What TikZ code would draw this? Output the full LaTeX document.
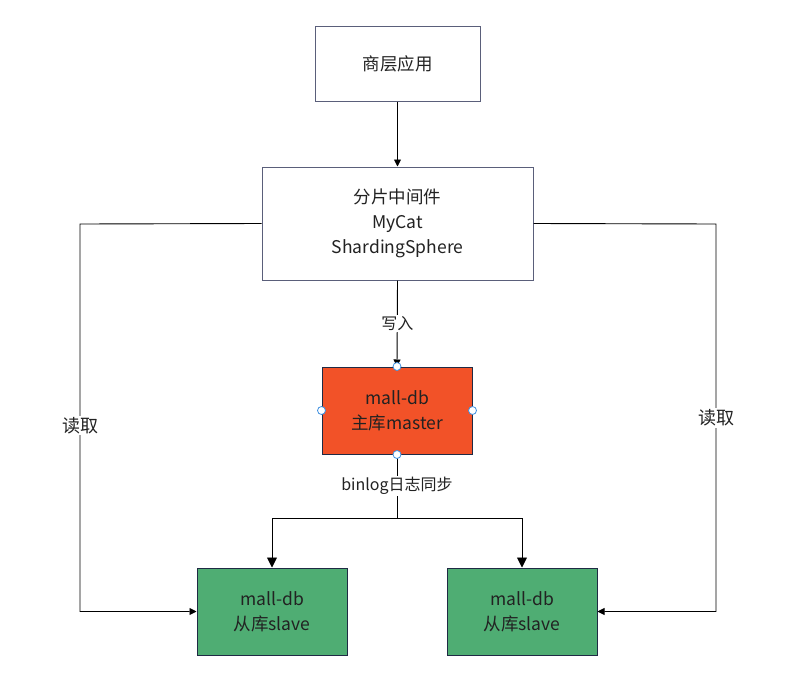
\documentclass[tikz,border=0pt]{standalone}
\usepackage{fontspec}
\setmainfont{Noto Sans CJK SC}
\usetikzlibrary{arrows.meta}
\definecolor{bordergrey}{HTML}{5A5F7A}
\definecolor{navy}{HTML}{1F2A44}
\definecolor{masterfill}{HTML}{F25228}
\definecolor{slavefill}{HTML}{4FAD73}
\definecolor{handle}{HTML}{3D8FE0}
\definecolor{txt}{HTML}{222222}
\tikzset{
  box/.style={draw=bordergrey, line width=1pt, fill=white, inner sep=0pt, text=txt, align=center, font=\fontsize{17.5}{25}\selectfont},
  dbbox/.style={draw=navy, line width=1pt, inner sep=0pt, text=txt, align=center, font=\fontsize{17.5}{25}\selectfont, minimum width=150pt, minimum height=87pt},
  conn/.style={draw=black, line width=0.9pt},
  smallarr/.style={-{Triangle[length=7pt,width=7pt]}},
  bigarr/.style={-{Triangle[length=10pt,width=10pt]}},
  lbl/.style={fill=white, inner sep=1.5pt, text=txt, font=\fontsize{16}{18}\selectfont},
  biglbl/.style={fill=white, inner sep=1.5pt, text=txt, font=\fontsize{18}{20}\selectfont},
  handlept/.style={circle, draw=handle, fill=white, line width=0.8pt, minimum size=8pt, inner sep=0pt}
}
\begin{document}
\begin{tikzpicture}[x=1pt, y=-1pt]
\useasboundingbox (0,0) rectangle (793,699);
\node[box, minimum width=165pt, minimum height=75pt] (app) at (397.5,63.5) {商层应用};
\node[box, minimum width=271pt, minimum height=113pt] (mid) at (397.5,223.5) {分片中间件\\MyCat\\ShardingSphere};
\node[dbbox, fill=masterfill] (master) at (397,410.5) {mall-db\\主库master};
\node[dbbox, fill=slavefill] (s1) at (272,611.5) {mall-db\\从库slave};
\node[dbbox, fill=slavefill] (s2) at (522,611.5) {mall-db\\从库slave};

\coordinate (split) at (397,518);
\coordinate (lc) at (80,224);
\coordinate (rc) at (716,224);

\draw[conn, smallarr] (app.south) -- (mid.north);
\draw[conn, smallarr] (mid.south) -- node[lbl] {写入} (master.north);
\draw[conn] (master.south) -- node[lbl, pos=0.5] {binlog日志同步} (split);
\draw[conn, bigarr] (split) -| (s1.north);
\draw[conn, bigarr] (split) -| (s2.north);
\draw[conn, smallarr] (mid.west) -- (lc) -- node[biglbl, pos=0.52] {读取} (lc |- s1.west) -- (s1.west);
\draw[conn, smallarr] (mid.east) -- (rc) -- node[biglbl, pos=0.5] {读取} (rc |- s2.east) -- (s2.east);

\node[handlept] (h1) at (master.north) {};
\node[handlept] (h2) at (master.south) {};
\node[handlept] (h3) at (master.west) {};
\node[handlept] (h4) at (master.east) {};
\end{tikzpicture}
\end{document}
